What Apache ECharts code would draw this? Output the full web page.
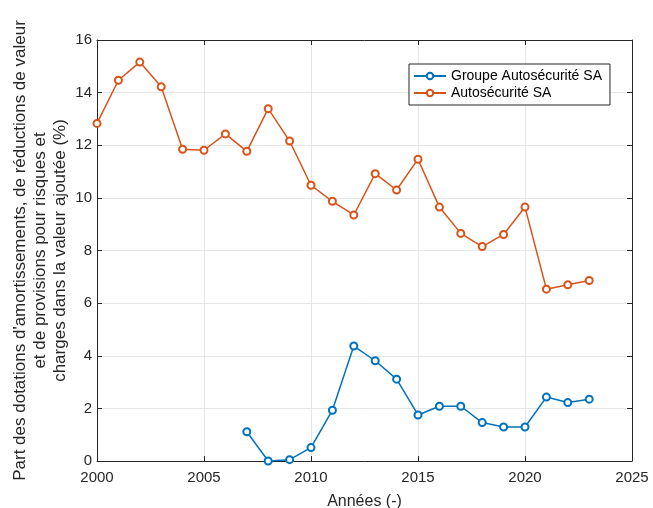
<!DOCTYPE html>
<html><head><meta charset="utf-8">
<script src="https://cdn.jsdelivr.net/npm/echarts@6/dist/echarts.min.js"></script>
<style>html,body{margin:0;padding:0;background:#fff}#c{width:653px;height:508px}</style>
</head><body><div id="c"></div>
<script>
const years = [2000,2001,2002,2003,2004,2005,2006,2007,2008,2009,2010,2011,2012,2013,2014,2015,2016,2017,2018,2019,2020,2021,2022,2023];
const groupe = [null,null,null,null,null,null,null,1.11,0.0,0.05,0.51,1.93,4.37,3.81,3.11,1.75,2.08,2.08,1.46,1.29,1.29,2.43,2.22,2.35];
const autosec = [12.83,14.47,15.16,14.22,11.85,11.81,12.43,11.77,13.39,12.16,10.48,9.87,9.35,10.92,10.30,11.47,9.65,8.65,8.15,8.61,9.65,6.53,6.70,6.86];
const xTicks = {min:2000,max:2025,interval:5};
const yTicks = {min:0,max:16,interval:2};
const names = ['Groupe Autosécurité SA','Autosécurité SA'];
const colors = ['#0072BD','#D95319'];

const font = 'Liberation Sans, Arial, Helvetica, sans-serif';
const chart = echarts.init(document.getElementById('c'), null, {renderer:'canvas'});
const pair = arr => years.map((y,i)=>[y,arr[i]]);
const tickIn = {show:true,inside:true,length:5,lineStyle:{color:'#262626',width:1}};
const frame = {show:true,onZero:false,lineStyle:{color:'#262626',width:1}};
chart.setOption({
  backgroundColor:'#fff',
  animation:false,
  textStyle:{fontFamily:font},
  grid:{left:97,right:21,top:40,bottom:47,containLabel:false,outerBoundsMode:'none'},
  legend:{
    left:409, top:64, orient:'vertical',
    backgroundColor:'#fff', borderColor:'#262626', borderWidth:1,
    padding:[5,8,5,4], itemGap:3, itemWidth:32, itemHeight:8,
    textStyle:{fontSize:14,color:'#000',fontFamily:font},
    data:names
  },
  xAxis:[{
    type:'value', min:xTicks.min, max:xTicks.max, interval:xTicks.interval,
    position:'bottom',
    name:'Années (-)', nameLocation:'middle', nameGap:33, nameMoveOverlap:false,
    nameTextStyle:{fontSize:16,color:'#262626'},
    axisLine:frame, axisTick:tickIn,
    axisLabel:{fontSize:15,color:'#262626',margin:9,formatter:v=>String(v)},
    splitLine:{show:true,lineStyle:{color:'#e6e6e6',width:1}}
  },{
    type:'value', min:xTicks.min, max:xTicks.max, interval:xTicks.interval,
    position:'top', axisLine:frame, axisTick:tickIn, axisLabel:{show:false}, splitLine:{show:false}
  }],
  yAxis:[{
    type:'value', min:yTicks.min, max:yTicks.max, interval:yTicks.interval,
    position:'left',
    name:"Part des dotations d'amortissements, de réductions de valeur\net de provisions pour risques et\ncharges dans la valeur ajoutée (%)",
    nameLocation:'middle', nameGap:27, nameRotate:90, nameMoveOverlap:false,
    nameTextStyle:{fontSize:17,color:'#262626',lineHeight:20,align:'center'},
    axisLine:frame, axisTick:tickIn,
    axisLabel:{fontSize:15,color:'#262626',margin:5},
    splitLine:{show:true,lineStyle:{color:'#e6e6e6',width:1}}
  },{
    type:'value', min:yTicks.min, max:yTicks.max, interval:yTicks.interval,
    position:'right', axisLine:frame, axisTick:tickIn, axisLabel:{show:false}, splitLine:{show:false}
  }],
  series:[
    {name:names[0],type:'line',data:pair(groupe),connectNulls:false,
     symbol:'emptyCircle',symbolSize:7,showSymbol:true,
     itemStyle:{color:colors[0],borderWidth:1.3},lineStyle:{color:colors[0],width:1.5}},
    {name:names[1],type:'line',data:pair(autosec),
     symbol:'emptyCircle',symbolSize:7,showSymbol:true,
     itemStyle:{color:colors[1],borderWidth:1.3},lineStyle:{color:colors[1],width:1.5}}
  ]
});
</script></body></html>
